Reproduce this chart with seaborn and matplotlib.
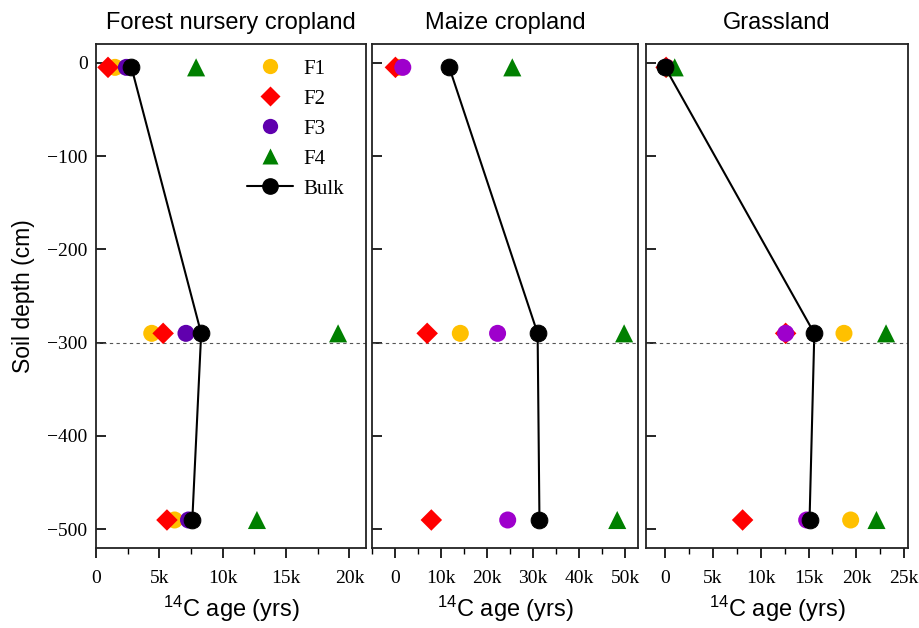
import numpy as np
import pandas as pd
import matplotlib.pyplot as plt
import seaborn as sns
from matplotlib.lines import Line2D
from matplotlib.ticker import FuncFormatter, MultipleLocator

sns.set_style("ticks")
plt.rcParams['font.family'] = ['Liberation Serif', 'DejaVu Serif']
plt.rcParams['axes.unicode_minus'] = True
plt.rcParams['mathtext.default'] = 'regular'
for k in ['text.color', 'axes.labelcolor', 'xtick.color', 'ytick.color']:
    plt.rcParams[k] = 'black'

panels = ["Forest nursery cropland", "Maize cropland", "Grassland"]
fractions = ["F1", "F2", "F3", "F4"]
depths = [-5, -290, -490]

# 14C age (yrs) per fraction, rows = depths
forest = {"F1": [1500, 4400, 6200], "F2": [950, 5300, 5600],
          "F3": [2400, 7100, 7300], "F4": [7900, 19100, 12700]}
maize = {"F1": [800, 14200, np.nan], "F2": [100, 7000, 7900],
         "F3": [1700, 22300, 24500], "F4": [25500, 49800, 48300]}
grass = {"F1": [200, 18700, 19400], "F2": [100, 12600, 8100],
         "F3": [150, 12600, 14800], "F4": [1000, 23100, 22100]}
bulk_forest = [2800, 8300, 7600]
bulk_maize = [11800, 31000, 31400]
bulk_grass = [0, 15600, 15100]

fraction_data = [forest, maize, grass]
bulk_data = [bulk_forest, bulk_maize, bulk_grass]

xlims = [(0, 21300), (-5000, 52800), (-2000, 25400)]
major_steps = [5000, 10000, 5000]
f3_colors = ["#6000AE", "#9E00CC", "#9E00CC"]

markers = {"F1": "o", "F2": "D", "F3": "o", "F4": "^"}
sizes = {"F1": 150, "F2": 120, "F3": 150, "F4": 170}

fig = plt.figure(figsize=(9.2, 6.28), dpi=100)
rects = [[0.1043, 0.1274, 0.2935, 0.8025],
         [0.4043, 0.1274, 0.2891, 0.8025],
         [0.7022, 0.1274, 0.2848, 0.8025]]

kfmt = FuncFormatter(lambda v, p: "0" if v == 0 else f"{v/1000:g}k")

for i, name in enumerate(panels):
    ax = fig.add_axes(rects[i])
    palette = {"F1": "#FFC000", "F2": "#FF0000", "F3": f3_colors[i], "F4": "#008000"}
    rows = []
    for f in fractions:
        for d, a in zip(depths, fraction_data[i][f]):
            rows.append({"fraction": f, "depth": d, "age": a})
    df = pd.DataFrame(rows).dropna()

    ax.axhline(-300, color="#555555", lw=0.8, ls=(0, (3, 3)), zorder=1)
    for f in fractions:
        sub = df[df["fraction"] == f]
        sns.scatterplot(data=sub, x="age", y="depth", color=palette[f],
                        marker=markers[f], s=sizes[f], edgecolor="none",
                        legend=False, ax=ax, zorder=3)
    bdf = pd.DataFrame({"age": bulk_data[i], "depth": depths})
    sns.lineplot(data=bdf, x="age", y="depth", sort=False, estimator=None,
                 color="black", lw=1.5, marker="o", markersize=12,
                 markeredgecolor="black", ax=ax, zorder=4)

    ax.set_xlim(*xlims[i])
    ax.set_ylim(-520, 20)
    ax.xaxis.set_major_locator(MultipleLocator(major_steps[i]))
    ax.xaxis.set_minor_locator(MultipleLocator(major_steps[i] / 2))
    ax.xaxis.set_major_formatter(kfmt)
    ax.yaxis.set_major_locator(MultipleLocator(100))
    ax.tick_params(axis="x", which="major", direction="out", length=7, width=1.2,
                   labelsize=14, pad=8.5)
    ax.tick_params(axis="x", which="minor", direction="out", length=4, width=1.0)
    ax.tick_params(axis="y", direction="in", length=7, width=1.2, labelsize=14, pad=6)
    for s in ax.spines.values():
        s.set_linewidth(1.3)
        s.set_color("#222222")
    ax.set_title(name, fontsize=17, family="Liberation Sans", pad=11)
    ax.set_xlabel("$^{14}$C age (yrs)", fontsize=17, family="Liberation Sans", labelpad=5)
    if i == 0:
        ax.set_ylabel("Soil depth (cm)", fontsize=16.5, family="Liberation Sans", labelpad=9)
    else:
        ax.set_ylabel("")
        ax.set_yticklabels([])

    if i == 0:
        handles = [Line2D([], [], ls="none", marker=markers[f], color=palette[f],
                          markersize=11 if f != "F2" else 10, markeredgecolor="none")
                   for f in fractions]
        handles.append(Line2D([], [], color="black", lw=1.5, marker="o", markersize=11))
        ax.legend(handles, fractions + ["Bulk"], loc="upper right", frameon=False,
                  fontsize=15, handlelength=2.2, labelspacing=0.5, handletextpad=0.5,
                  bbox_to_anchor=(0.965, 0.995), borderaxespad=0.2)

fig.savefig("out.png", dpi=100)
